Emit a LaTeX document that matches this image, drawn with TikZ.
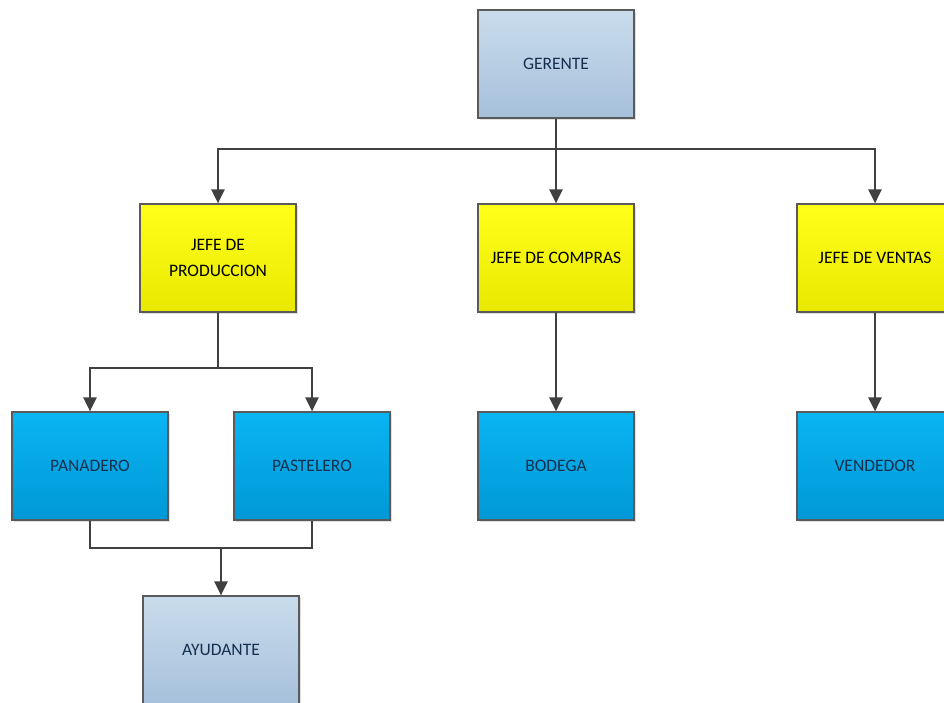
\documentclass[tikz,border=0pt]{standalone}
\usepackage{fontspec}
\setmainfont{Carlito}
\usetikzlibrary{arrows.meta,shadows}
\definecolor{edge}{HTML}{5A5A5A}
\definecolor{wire}{HTML}{404040}
\definecolor{navy}{HTML}{14304F}
\definecolor{gry1}{HTML}{C9DCEC}
\definecolor{gry2}{HTML}{A6C0DB}
\definecolor{yel1}{HTML}{FFFF1A}
\definecolor{yel2}{HTML}{E8E800}
\definecolor{sky1}{HTML}{0AB4F2}
\definecolor{sky2}{HTML}{0098D6}
\tikzset{
  box/.style={draw=edge, line width=1.2pt, minimum width=156pt, minimum height=108pt,
    inner sep=0pt, align=center, font=\fontsize{17.5}{26}\selectfont,
    drop shadow={shadow xshift=1.5pt, shadow yshift=-1.5pt, opacity=0.25}},
  grey/.style={box, top color=gry1, bottom color=gry2, text=navy},
  lead/.style={box, top color=yel1, bottom color=yel2, text=black},
  staff/.style={box, top color=sky1, bottom color=sky2, text=navy},
  conn/.style={draw=wire, line width=2.4pt},
  arr/.style={conn, -{Triangle[width=13pt,length=14pt]}},
}
\begin{document}
\begin{tikzpicture}[x=1pt,y=-1pt]
  \useasboundingbox (0,0) rectangle (944,702);
  \clip (0,0) rectangle (944,702);
  \fill[white] (0,0) rectangle (944,702);

  % boxes
  \node[grey]  (ger)  at (556,64)  {GERENTE};
  \node[lead]  (prod) at (218,258) {JEFE DE\\PRODUCCION};
  \node[lead]  (comp) at (556,258) {JEFE DE COMPRAS};
  \node[lead]  (vent) at (875,258) {JEFE DE VENTAS};
  \node[staff] (pan)  at (90,466)  {PANADERO};
  \node[staff] (pas)  at (312,466) {PASTELERO};
  \node[staff] (bod)  at (556,466) {BODEGA};
  \node[staff] (ven)  at (875,466) {VENDEDOR};
  \node[grey]  (ayu)  at (221,650) {AYUDANTE};

  % junction points
  \coordinate (b1) at (556,149);
  \coordinate (b2) at (218,368);
  \coordinate (b3) at (221,548);

  % connectors
  \draw[conn] (ger.south) -- (b1);
  \draw[arr] (b1) -| (prod.north);
  \draw[arr] (b1) -- (comp.north);
  \draw[arr] (b1) -| (vent.north);

  \draw[conn] (prod.south) -- (b2);
  \draw[arr] (b2) -| (pan.north);
  \draw[arr] (b2) -| (pas.north);

  \draw[arr] (comp.south) -- (bod.north);
  \draw[arr] (vent.south) -- (ven.north);

  \draw[conn] (pan.south) |- (b3) -| (pas.south);
  \draw[arr] (b3) -- (ayu.north);
\end{tikzpicture}
\end{document}
